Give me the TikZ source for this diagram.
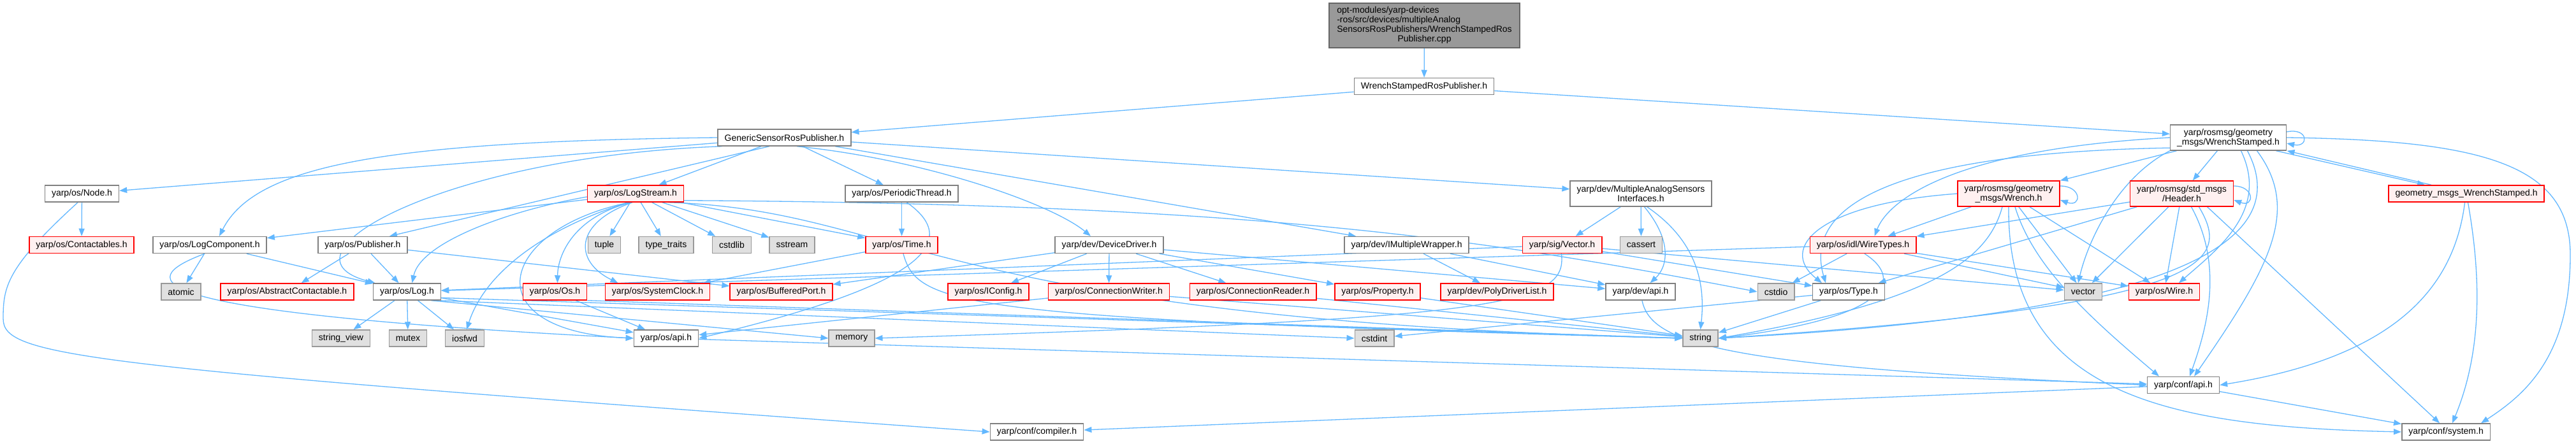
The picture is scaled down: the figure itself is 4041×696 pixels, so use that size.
\documentclass[tikz,border=0pt]{standalone}
\usepackage{fontspec}
\setmainfont{Liberation Sans}
\usetikzlibrary{arrows.meta,backgrounds}
\definecolor{link500} {HTML}{63B8FF}
\definecolor{grey700} {HTML}{666666}
\definecolor{grey500} {HTML}{808080}
\definecolor{grey400} {HTML}{999999}
\definecolor{grey150} {HTML}{E0E0E0}
\definecolor{red600}  {HTML}{FF0000}
\definecolor{red050}  {HTML}{FFF0F0}
\newcommand{\dxfont}{\fontsize{14}{15}\selectfont}
\tikzset{
  hdr/.style    ={draw=grey500, line width=1.5pt, fill=white, align=center,
                  inner xsep=10.5pt, inner ysep=0pt, minimum height=26pt,
                  font=\dxfont},
  hdrred/.style ={hdr, draw=red600, fill=red050},
  sysh/.style   ={hdr, draw=grey400, fill=grey150},
  rootf/.style  ={hdr, draw=grey700, fill=grey400, minimum height=70pt,
                  minimum width=299pt},
  twoline/.style={minimum height=40pt},
  ar/.style     ={-{Stealth[length=12pt,width=9pt,inset=0pt]}, draw=link500,
                  line width=1.3pt}
}
\begin{document}
\begin{tikzpicture}[x=1pt,y=-1pt]
\useasboundingbox (0,0) rectangle (4041,696);
% top rows
\node[rootf] (cpp) at (2234.5,40)
  {\begin{tabular}{@{}l@{}}opt-modules/yarp-devices\\-ros/src/devices/multipleAnalog\\
   SensorsRosPublishers/WrenchStampedRos\\\multicolumn{1}{@{}c@{}}{Publisher.cpp}\end{tabular}};
\node[hdr] (wsrp) at (2234,135.5) {WrenchStampedRosPublisher.h};
\node[hdr] (gsrp) at (1230.5,216) {GenericSensorRosPublisher.h};
\node[hdr,twoline] (ws) at (3495.5,216) {yarp/rosmsg/geometry\\\_msgs/WrenchStamped.h};
\node[hdr] (nodeh) at (128.5,304) {yarp/os/Node.h};
\node[hdrred] (logstream) at (997,304) {yarp/os/LogStream.h};
\node[hdr] (pthread) at (1414.5,304) {yarp/os/PeriodicThread.h};
\node[hdr,twoline] (masi) at (2574,304) {yarp/dev/MultipleAnalogSensors\\Interfaces.h};
\node[hdrred,twoline] (wrench) at (3151,304) {yarp/rosmsg/geometry\\\_msgs/Wrench.h};
\node[hdrred,twoline] (header) at (3422.5,304) {yarp/rosmsg/std\_msgs\\/Header.h};
\node[hdrred] (gmws) at (3869,304) {geometry\_msgs\_WrenchStamped.h};

\node[hdrred] (contactables) at (128,384.5) {yarp/os/Contactables.h};
\node[hdr] (logcomp) at (329,384.5) {yarp/os/LogComponent.h};
\node[hdr] (publisher) at (569,384.5) {yarp/os/Publisher.h};
\node[sysh] (tuple) at (948,384.5) {tuple};
\node[sysh] (typetraits) at (1045,384.5) {type\_traits};
\node[sysh] (cstdlib) at (1148,384.5) {cstdlib};
\node[sysh] (sstream) at (1242.5,384.5) {sstream};
\node[hdrred] (time) at (1414.5,384.5) {yarp/os/Time.h};
\node[hdr] (devdriver) at (1740,384.5) {yarp/dev/DeviceDriver.h};
\node[hdr] (imwrapper) at (2206.5,384.5) {yarp/dev/IMultipleWrapper.h};
\node[hdrred] (sigvector) at (2450.5,384.5) {yarp/sig/Vector.h};
\node[sysh] (cassert) at (2574.5,384.5) {cassert};
\node[hdrred] (wiretypes) at (2922.5,384.5) {yarp/os/idl/WireTypes.h};

\node[sysh] (atomic) at (284,458) {atomic};
\node[hdrred] (abscontact) at (450.5,458) {yarp/os/AbstractContactable.h};
\node[hdr] (log) at (638.5,458) {yarp/os/Log.h};
\node[hdrred] (os) at (870.5,458) {yarp/os/Os.h};
\node[hdrred] (sysclock) at (1031.5,458) {yarp/os/SystemClock.h};
\node[hdrred] (bufport) at (1225.5,458) {yarp/os/BufferedPort.h};
\node[hdrred] (iconfig) at (1550.5,458) {yarp/os/IConfig.h};
\node[hdrred] (connwriter) at (1739.5,458) {yarp/os/ConnectionWriter.h};
\node[hdrred] (connreader) at (1965.5,458) {yarp/os/ConnectionReader.h};
\node[hdrred] (property) at (2161,458) {yarp/os/Property.h};
\node[hdrred] (polydriver) at (2348.5,458) {yarp/dev/PolyDriverList.h};
\node[hdr] (devapi) at (2573.5,458) {yarp/dev/api.h};
\node[sysh] (cstdio) at (2786,458) {cstdio};
\node[hdr] (type) at (2900,458) {yarp/os/Type.h};
\node[sysh] (vector) at (3268,458) {vector};
\node[hdrred] (wire) at (3395,458) {yarp/os/Wire.h};

\node[sysh] (stringview) at (535,531) {string\_view};
\node[sysh] (mutex) at (640,531) {mutex};
\node[sysh] (iosfwd) at (729,531) {iosfwd};
\node[hdr] (osapi) at (1045,531) {yarp/os/api.h};
\node[sysh] (memory) at (1336,531) {memory};
\node[sysh] (cstdint) at (2156,531) {cstdint};
\node[sysh] (string) at (2667.5,531) {string};
\node[hdr] (confapi) at (3425,604.5) {yarp/conf/api.h};
\node[hdr] (compiler) at (1626.5,678) {yarp/conf/compiler.h};
\node[hdr] (system) at (3837,678) {yarp/conf/system.h};

% the links sit under the boxes, as in the original graph
\begin{scope}[on background layer]
\fill[white] (0,0) rectangle (4041,696);
\draw[ar] (cpp) -- (wsrp);
\draw[ar] (wsrp) -- (gsrp);
\draw[ar] (wsrp) -- (ws);
\draw[ar] (gsrp) -- (nodeh);
\draw[ar] (gsrp) -- (logstream);
\draw[ar] (gsrp.west) .. controls (600,222) and (400,260) .. ([xshift=15]logcomp.north);
\draw[ar] (gsrp.188) .. controls (700,245) and (420,400) .. ([xshift=-50]log.north);
\draw[ar] (gsrp.-150) -- ([xshift=42]publisher.north);
\draw[ar] (gsrp) -- (pthread);
\draw[ar] (gsrp.-35) .. controls (1450,250) and (1650,320) .. ([xshift=-29]devdriver.north);
\draw[ar] (gsrp) -- (imwrapper);
\draw[ar] (gsrp) -- (masi);

\draw[ar] (logstream) -- (logcomp);
\draw[ar] ([yshift=-5]logstream.west) .. controls (800,330) and (660,380) .. ([xshift=8]log.north);
\draw[ar] (logstream) -- (tuple);
\draw[ar] (logstream) -- (typetraits);
\draw[ar] (logstream) -- (cstdlib);
\draw[ar] (logstream) -- (sstream);
\draw[ar] (logstream) -- (time);
\draw[ar] (logstream.-115) .. controls (900,340) and (875,400) .. ([xshift=4]os.north);
\draw[ar] (logstream.-110) .. controls (900,350) and (900,410) .. ([xshift=-62]sysclock.north);
\draw[ar] (logstream.-130) .. controls (850,360) and (760,430) .. ([xshift=3]iosfwd.north);
\draw[ar] (logstream.-125) .. controls (780,360) and (740,520) .. (osapi.west);
\draw[ar] (logstream.-8) .. controls (2000,320) and (2350,380) .. (cstdio.west);
\draw[ar] (logstream.-15) .. controls (1420,330) and (1450,500) .. (string.west);

\draw[ar] (pthread) -- (time);
\draw[ar] (pthread.-60) .. controls (1540,400) and (1350,470) .. (osapi.east);
\draw[ar] (time) -- (sysclock);
\draw[ar] (time.-80) .. controls (1440,480) and (1500,500) .. (string.west);

\draw[ar] (logcomp) -- (atomic);
\draw[ar] (logcomp) -- (log);
\draw[ar] (logcomp.-120) .. controls (210,440) and (200,490) .. (osapi.west);
\draw[ar] (publisher) -- (abscontact);
\draw[ar] (publisher) -- (log);
\draw[ar] (publisher) -- (bufport);

\draw[ar] (log) -- (stringview);
\draw[ar] (log) -- (mutex);
\draw[ar] (log) -- (iosfwd);
\draw[ar] (log) -- (osapi);
\draw[ar] (log.-20) -- (memory.west);
\draw[ar] (log.-15) -- (cstdint.west);
\draw[ar] (log.-10) -- (string.west);
\draw[ar] (os) -- (osapi);
\draw[ar] (os.-15) -- (string.west);

\draw[ar] (devdriver) -- (iconfig);
\draw[ar] (devdriver) -- (connwriter);
\draw[ar] (devdriver) -- (connreader);
\draw[ar] (devdriver) -- (property);
\draw[ar] (devdriver) -- (devapi);
\draw[ar] (devdriver) -- (bufport);
\draw[ar] (connwriter) -- (osapi);
\draw[ar] (connwriter) -- (string);
\draw[ar] (connreader) -- (string);
\draw[ar] (property) -- (string);
\draw[ar] (imwrapper) -- (polydriver);
\draw[ar] (imwrapper) -- (devapi);

\draw[ar] (masi) -- (sigvector);
\draw[ar] (masi) -- (cassert);
\draw[ar] (masi.-75) .. controls (2625,380) and (2615,420) .. ([xshift=15]devapi.north);
\draw[ar] (masi.-65) .. controls (2665,380) and (2675,450) .. (string.north);
\draw[ar] (sigvector) -- (log);
\draw[ar] (sigvector.-95) .. controls (2460,480) and (2350,500) .. (memory.east);
\draw[ar] (sigvector) -- (type);
\draw[ar] (sigvector) -- (vector);

\draw[ar] (devapi.-80) .. controls (2590,540) and (2700,575) .. (confapi.west);
\draw[ar] (osapi) -- (confapi);
\draw[ar] (confapi) -- (compiler);
\draw[ar] (confapi) -- (system);
\draw[ar] (nodeh) -- (contactables);
\draw[ar] (nodeh.-115) .. controls (10,420) and (5,450) .. (5,500)
  .. controls (5,560) and (120,575) .. (compiler.west);

\draw[ar] ([yshift=9]ws.east) .. controls (3622,200) and (3622,232) .. ([yshift=-9]ws.east);
\draw[ar] (ws) -- (wrench);
\draw[ar] (ws) -- (header);
\draw[ar] ([xshift=75]ws.south) -- ([xshift=-65]gmws.north);
\draw[ar] ([xshift=-55]gmws.north) -- ([xshift=92]ws.south);
\draw[ar] (ws.east) .. controls (3900,220) and (4032,260) .. (4032,400)
  .. controls (4032,560) and (3960,620) .. ([xshift=55]system.north);
\draw[ar] (ws.west) .. controls (3050,235) and (2960,320) .. ([xshift=18]wiretypes.north);
\draw[ar] (ws.190) .. controls (2950,240) and (2830,330) .. ([xshift=-36]type.north);
\draw[ar] (ws.south west) .. controls (3320,280) and (3275,380) .. ([xshift=-8]vector.north);
\draw[ar] ([xshift=20]ws.south) .. controls (3560,330) and (3480,390) .. ([xshift=23]wire.north);
\draw[ar] ([xshift=30]ws.south) .. controls (3590,360) and (3480,490) .. (string.east);
\draw[ar] ([xshift=45]ws.south) .. controls (3610,330) and (3560,420) .. ([xshift=17]confapi.north);

\draw[ar] ([yshift=12]wrench.east) .. controls (3266,292) and (3266,326) .. ([yshift=-10]wrench.east);
\draw[ar] (wrench) -- (wiretypes);
\draw[ar] (wrench.west) .. controls (2850,320) and (2790,390) .. ([xshift=-42]type.north);
\draw[ar] (wrench) -- (vector);
\draw[ar] (wrench) -- (wire);
\draw[ar] ([xshift=-10]wrench.south) .. controls (3120,400) and (3050,470) .. (string.east);
\draw[ar] ([xshift=10]wrench.south) .. controls (3190,420) and (3280,500) .. ([xshift=-38]confapi.north);
\draw[ar] (wrench.south) .. controls (3148,620) and (3400,670) .. (system.west);

\draw[ar] ([yshift=12]header.east) .. controls (3537,292) and (3537,326) .. ([yshift=-10]header.east);
\draw[ar] (header) -- (wiretypes);
\draw[ar] (header) -- (type);
\draw[ar] (header) -- (vector);
\draw[ar] (header) -- (wire);
\draw[ar] ([xshift=15]header.south) .. controls (3490,420) and (3460,520) .. ([xshift=10]confapi.north);
\draw[ar] ([xshift=27]header.south) .. controls (3500,410) and (3480,480) .. (string.east);
\draw[ar] ([xshift=40]header.south) -- ([xshift=-10]system.north);

\draw[ar] (gmws.-100) .. controls (3850,450) and (3760,560) .. (confapi.east);
\draw[ar] (gmws.-80) .. controls (3895,450) and (3890,560) .. ([xshift=10]system.north);

\draw[ar] (wiretypes) -- (cstdio);
\draw[ar] (wiretypes) -- (vector);
\draw[ar] (wiretypes) -- (wire);
\draw[ar] (wiretypes.-80) .. controls (2990,440) and (2960,500) .. (string.east);
\draw[ar] (wiretypes) -- (log);
\draw[ar] (type) -- (string);
\draw[ar] (type) -- (cstdint);
\end{scope}
\end{tikzpicture}
\end{document}
